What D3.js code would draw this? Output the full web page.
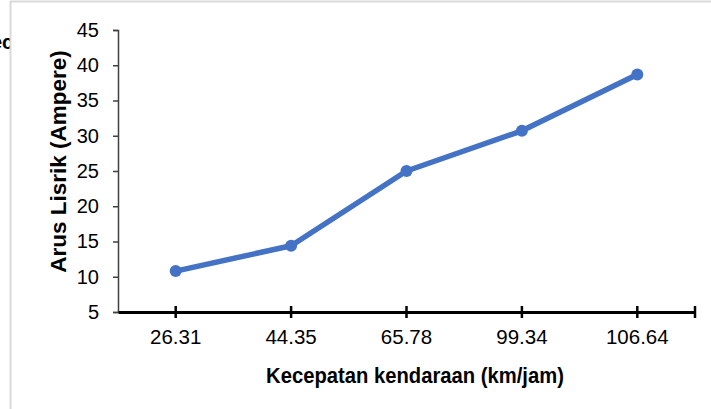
<!DOCTYPE html>
<html>
<head>
<meta charset="utf-8">
<script src="https://cdn.jsdelivr.net/npm/d3@7/dist/d3.min.js"></script>
<style>
  html, body { margin: 0; padding: 0; background: #fff; }
  svg { display: block; font-family: "Liberation Sans", Arial, sans-serif; }
</style>
</head>
<body>
<svg id="chart" width="711" height="409"></svg>
<script>
// Vehicle speed categories (km/jam) and measured current (Ampere)
const speeds = ["26.31", "44.35", "65.78", "99.34", "106.64"];
const current = [10.8, 14.4, 25.0, 30.7, 38.7];
const yTicks = [5, 10, 15, 20, 25, 30, 35, 40, 45];

const svg = d3.select("#chart");
const W = 711, H = 409;

// stray text peeking out from behind the chart panel
svg.append("text")
  .attr("x", -9).attr("y", 49)
  .attr("font-size", 20).attr("font-weight", "bold")
  .attr("fill", "#000")
  .text("ec");

// chart panel with a light border on its top and left edges
svg.append("rect")
  .attr("x", 10).attr("y", 1).attr("width", W - 10).attr("height", H - 1)
  .attr("fill", "#fff");
svg.append("line")
  .attr("x1", 10.5).attr("x2", 10.5).attr("y1", 1).attr("y2", H)
  .attr("stroke", "#d9d9d9").attr("stroke-width", 2);
svg.append("line")
  .attr("x1", 10).attr("x2", W).attr("y1", 1.5).attr("y2", 1.5)
  .attr("stroke", "#d9d9d9").attr("stroke-width", 2);

const plotLeft = 118, plotRight = 695, plotTop = 30, plotBottom = 312;

const x = d3.scaleBand().domain(speeds).range([plotLeft, plotRight]);
const y = d3.scaleLinear().domain([5, 45]).range([plotBottom, plotTop]);

// y axis
const yAxis = svg.append("g")
  .attr("transform", `translate(${plotLeft},0)`)
  .call(d3.axisLeft(y).tickValues(yTicks).tickSize(5).tickPadding(14));
yAxis.select(".domain").attr("stroke", "#404040").attr("stroke-width", 1.5);
yAxis.selectAll(".tick line").attr("stroke", "#404040").attr("stroke-width", 1.5);
yAxis.selectAll("text").attr("font-size", 20).attr("fill", "#000")
  .attr("font-family", "Liberation Sans, Arial, sans-serif");

// x axis: ticks at category centres, plus closing tick at the right end
const xAxis = svg.append("g")
  .attr("transform", `translate(0,${plotBottom})`)
  .call(d3.axisBottom(x).tickSize(5).tickSizeOuter(0).tickPadding(12));
xAxis.select(".domain").attr("stroke", "#000").attr("stroke-width", 3);
xAxis.selectAll(".tick line")
  .attr("y1", -6).attr("y2", 6)
  .attr("stroke", "#000").attr("stroke-width", 2.5);
xAxis.selectAll("text").attr("font-size", 20.5).attr("fill", "#000")
  .attr("font-family", "Liberation Sans, Arial, sans-serif");
xAxis.append("line")
  .attr("x1", plotRight).attr("x2", plotRight).attr("y1", -6).attr("y2", 6)
  .attr("stroke", "#000").attr("stroke-width", 2.5);

// line series
const pts = speeds.map((s, i) => ({ s, v: current[i] }));
const cx = d => x(d.s) + x.bandwidth() / 2;
svg.append("path")
  .datum(pts)
  .attr("fill", "none")
  .attr("stroke", "#4472C4")
  .attr("stroke-width", 5.5)
  .attr("stroke-linejoin", "round")
  .attr("d", d3.line().x(cx).y(d => y(d.v)));
svg.selectAll("circle.pt")
  .data(pts).join("circle")
  .attr("class", "pt")
  .attr("cx", cx).attr("cy", d => y(d.v))
  .attr("r", 6)
  .attr("fill", "#4472C4");

// axis titles
svg.append("text")
  .attr("transform", "translate(66,161.5) rotate(-90)")
  .attr("text-anchor", "middle")
  .attr("font-size", 22.5).attr("font-weight", "bold")
  .text("Arus Lisrik (Ampere)");
svg.append("text")
  .attr("transform", "translate(415,383) scale(0.92,1)")
  .attr("text-anchor", "middle")
  .attr("font-size", 22).attr("font-weight", "bold")
  .text("Kecepatan kendaraan (km/jam)");
</script>
</body>
</html>
